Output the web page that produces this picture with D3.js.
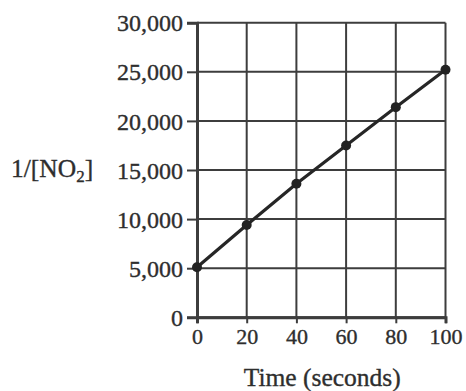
<!DOCTYPE html>
<html><head><meta charset="utf-8">
<script src="https://cdn.jsdelivr.net/npm/d3@7/dist/d3.min.js"></script>
<style>body{margin:0;background:#fff}svg{display:block}text{font-family:"Liberation Serif","Times New Roman",serif;fill:#2e2e2e;stroke:#2e2e2e;stroke-width:0.35px}</style>
</head><body><svg id="c" width="466" height="391"></svg>
<script>
const times = [0, 20, 40, 60, 80, 100];
const invNO2 = [5100, 9400, 13600, 17500, 21400, 25200];
const xTicks = [0, 20, 40, 60, 80, 100];
const yTicks = [0, 5000, 10000, 15000, 20000, 25000, 30000];
const xTitle = "Time (seconds)";

const svg = d3.select("#c");
const m = {l:197, r:20.5, t:22.7, b:73.7};
const W = 466, H = 391;
const x = d3.scaleLinear().domain([0,100]).range([m.l, W-m.r]);
const y = d3.scaleLinear().domain([0,30000]).range([H-m.b, m.t]);
const ink = "#3d3d3d";

// grid
svg.append("g").selectAll("line").data(xTicks).join("line")
  .attr("x1", d=>x(d)).attr("x2", d=>x(d)).attr("y1", y(0)).attr("y2", y(30000))
  .attr("stroke", ink).attr("stroke-width", 2);
svg.append("g").selectAll("line").data(yTicks).join("line")
  .attr("x1", x(0)).attr("x2", x(100)).attr("y1", d=>y(d)).attr("y2", d=>y(d))
  .attr("stroke", ink).attr("stroke-width", 2);

// axes
const yAxis = svg.append("g").attr("transform", `translate(${x(0)},0)`)
  .call(d3.axisLeft(y).tickValues(yTicks).tickSize(10).tickPadding(4).tickFormat(d3.format(",")));
const xAxis = svg.append("g").attr("transform", `translate(0,${y(0)})`)
  .call(d3.axisBottom(x).tickValues(xTicks).tickSize(6).tickPadding(3).tickFormat(d3.format("d")));
[yAxis, xAxis].forEach(a=>{
  a.select(".domain").attr("stroke", ink).attr("stroke-width", 3);
  a.selectAll(".tick line").attr("stroke", ink).attr("stroke-width", 2);
  a.selectAll("text").attr("fill", "#2e2e2e").style("font-family", '"Liberation Serif",serif');
});
yAxis.selectAll("text").style("font-size", "24px").attr("dy", "0.34em");
xAxis.selectAll("text").style("font-size", "22px").attr("dy", "0.8em");

// line and points
const line = d3.line().x((d,i)=>x(times[i])).y(d=>y(d));
svg.append("path").datum(invNO2).attr("d", line)
  .attr("fill","none").attr("stroke","#262626").attr("stroke-width",3.2);
svg.selectAll("circle.pt").data(invNO2).join("circle").attr("class","pt")
  .attr("cx",(d,i)=>x(times[i])).attr("cy",d=>y(d)).attr("r",5).attr("fill","#222");

// y title
const yt = svg.append("text").attr("x", 11).attr("y", y(15000)+7).style("font-size","25.5px");
yt.append("tspan").text("1/[NO");
yt.append("tspan").text("2").style("font-size","17px").attr("dy", 5);
yt.append("tspan").text("]").attr("dy", -5);

// x title
svg.append("text").attr("x", (x(0)+x(100))/2 + 1).attr("y", 386).attr("text-anchor","middle")
  .style("font-size","25.5px").text(xTitle);
</script></body></html>
